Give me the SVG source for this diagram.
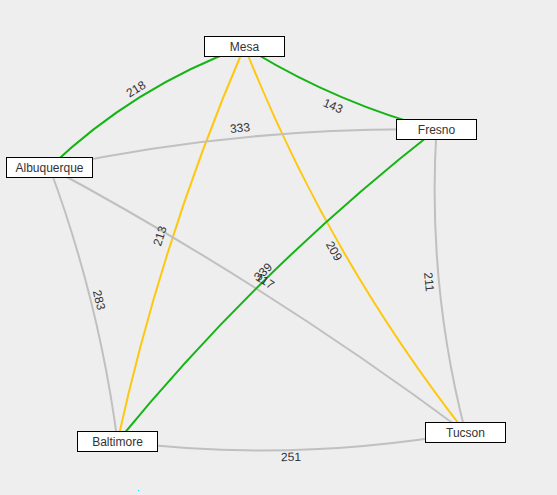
<svg xmlns="http://www.w3.org/2000/svg" width="557" height="495" viewBox="0 0 557 495">
  <style>
    .bg { fill: #eeeeee; }
    .link { fill: none; stroke-width: 2; }
    .green { stroke: #14b414; }
    .yellow { stroke: #fdc80f; }
    .gray { stroke: #c0c0c0; }
    .weight { font-family: "Liberation Sans", Arial, sans-serif; font-size: 12px; fill: #333333; text-anchor: middle; }
    .node rect { fill: #ffffff; stroke: #000000; stroke-width: 1; }
    .node text { font-family: "Liberation Sans", Arial, sans-serif; font-size: 12px; fill: #333333; text-anchor: middle; }
  </style>

  <rect class="bg" x="0" y="0" width="557" height="495"/>

  <!-- weighted links between cities, drawn as shallow arcs between node centres -->
  <g id="connectors">
    <path id="mesa-albuquerque" class="link green" d="M244.5,46.5 A555,555 0 0,0 49.5,167.5"/>
    <path id="mesa-fresno" class="link green" d="M244.5,46.5 A700,700 0 0,0 436.5,129.5"/>
    <path id="mesa-baltimore" class="link yellow" d="M244.5,46.5 A2157,2157 0 0,0 117.5,441.5"/>
    <path id="mesa-tucson" class="link yellow" d="M244.5,46.5 A1554,1554 0 0,0 465.5,432.5"/>
    <path id="albuquerque-fresno" class="link gray" d="M49.5,167.5 A1724,1724 0 0,1 436.5,129.5"/>
    <path id="albuquerque-baltimore" class="link gray" d="M49.5,167.5 A1249,1249 0 0,1 117.5,441.5"/>
    <path id="albuquerque-tucson" class="link gray" d="M49.5,167.5 A3383,3383 0 0,1 465.5,432.5"/>
    <path id="fresno-baltimore" class="link green" d="M436.5,129.5 A2000,2000 0 0,0 117.5,441.5"/>
    <path id="fresno-tucson" class="link gray" d="M436.5,129.5 A971,971 0 0,0 465.5,432.5"/>
    <path id="baltimore-tucson" class="link gray" d="M117.5,441.5 A1172,1172 0 0,0 465.5,432.5"/>

    <!-- link weights, turned to follow their links -->
    <g id="weights">
      <text class="weight" transform="translate(136,89) rotate(-31.8)" y="4">218</text>
      <text class="weight" transform="translate(333,106) rotate(23.4)" y="4">143</text>
      <text class="weight" transform="translate(160,236) rotate(-72.2)" y="4">213</text>
      <text class="weight" transform="translate(334,251) rotate(60.2)" y="4">209</text>
      <text class="weight" transform="translate(240,128) rotate(-5.6)" y="4">333</text>
      <text class="weight" transform="translate(99,300) rotate(76.1)" y="4">283</text>
      <text class="weight" transform="translate(265,281) rotate(32.5)" y="4">117</text>
      <text class="weight" transform="translate(263,272) rotate(-44.4)" y="4">339</text>
      <text class="weight" transform="translate(429,282) rotate(84.5)" y="4">211</text>
      <text class="weight" transform="translate(291,457) rotate(-1.5)" y="4">251</text>
    </g>
  </g>

  <!-- city nodes -->
  <g id="mesa" class="node">
    <rect x="204.5" y="36.5" width="80" height="20"/>
    <text x="244.5" y="51">Mesa</text>
  </g>
  <g id="fresno" class="node">
    <rect x="396.5" y="119.5" width="80" height="20"/>
    <text x="436.5" y="134">Fresno</text>
  </g>
  <g id="albuquerque" class="node">
    <rect x="6.5" y="157.5" width="86" height="20"/>
    <text x="49.5" y="172">Albuquerque</text>
  </g>
  <g id="baltimore" class="node">
    <rect x="77.5" y="431.5" width="80" height="20"/>
    <text x="117.5" y="446">Baltimore</text>
  </g>
  <g id="tucson" class="node">
    <rect x="425.5" y="422.5" width="80" height="20"/>
    <text x="465.5" y="437">Tucson</text>
  </g>

  <!-- stray cyan pixel near the lower edge -->
  <rect x="138" y="490" width="1" height="1" fill="#00e5ff"/>
</svg>
